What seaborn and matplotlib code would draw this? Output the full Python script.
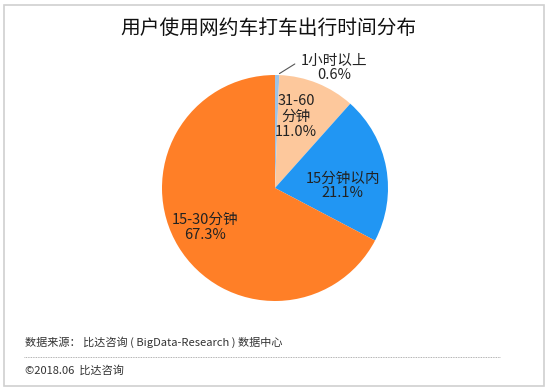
import matplotlib
matplotlib.use("Agg")
import matplotlib.pyplot as plt
import seaborn as sns
from matplotlib.patches import Rectangle
from matplotlib.lines import Line2D
import numpy as np

# data
categories = ['1小时以上', '31-60\n分钟', '15分钟以内', '15-30分钟']
shares = [0.6, 11.0, 21.1, 67.3]
colors = ['#9DC3E6', '#FDC89C', '#2196F3', '#FF7F27']

# label placement (radius fraction, angle nudge in degrees)
label_radius = [None, 0.66, 0.6, 0.71]
label_nudge = [0, 5.5, -8.5, -1.5]

sns.set_theme(style='white')
plt.rcParams['font.family'] = ['Noto Sans CJK SC', 'DejaVu Sans']

W, H = 550, 391
fig = plt.figure(figsize=(W / 100, H / 100), dpi=100)

# outer frame
fig.patches.append(Rectangle((4 / W, 5 / H), 540 / W, 381 / H, transform=fig.transFigure,
                             fill=False, edgecolor='#d0d0d0', linewidth=1.2))

fig.text(268 / W, 1 - 28 / H, '用户使用网约车打车出行时间分布', ha='center', va='center',
         fontsize=14.2, color='#111111')

cx, cy, r = 275, 188, 113
ax = fig.add_axes([(cx - r) / W, (H - cy - r) / H, 2 * r / W, 2 * r / H])
wedges, _ = ax.pie(shares, colors=colors, startangle=90, counterclock=False,
                   wedgeprops=dict(linewidth=0))
ax.set_xlim(-1, 1)
ax.set_ylim(-1, 1)
ax.set_aspect('equal')
ax.axis('off')

for w, cat, val, rad, nudge in zip(wedges, categories, shares, label_radius, label_nudge):
    if rad is None:
        continue
    ang = np.deg2rad((w.theta1 + w.theta2) / 2 + nudge)
    ax.text(rad * np.cos(ang), rad * np.sin(ang), f'{cat}\n{val:.1f}%',
            ha='center', va='center', fontsize=10.5, color='#222222', linespacing=1.1)

# small slice label with leader line
w0 = wedges[0]
ang0 = np.deg2rad((w0.theta1 + w0.theta2) / 2)
ax.annotate(f'{categories[0]}\n{shares[0]:.1f}%',
            xy=(np.cos(ang0), np.sin(ang0)), xytext=(0.52, 1.06),
            ha='center', va='center', fontsize=10.5, color='#222222', linespacing=1.05,
            arrowprops=dict(arrowstyle='-', color='#555555', lw=0.8,
                            connectionstyle='angle,angleA=0,angleB=32', relpos=(0, 0.72)),
            annotation_clip=False)

fig.text(25 / W, 1 - 342 / H, '数据来源： 比达咨询 ( BigData-Research ) 数据中心', ha='left',
         va='center', fontsize=8, color='#333333')
fig.lines.append(Line2D([24 / W, 500 / W], [1 - 357 / H, 1 - 357 / H], transform=fig.transFigure,
                        color='#999999', linewidth=0.6, linestyle=(0, (1, 1))))
fig.text(25 / W, 1 - 370 / H, '©2018.06  比达咨询', ha='left', va='center',
         fontsize=8, color='#333333')

fig.savefig('out.png', dpi=100)
